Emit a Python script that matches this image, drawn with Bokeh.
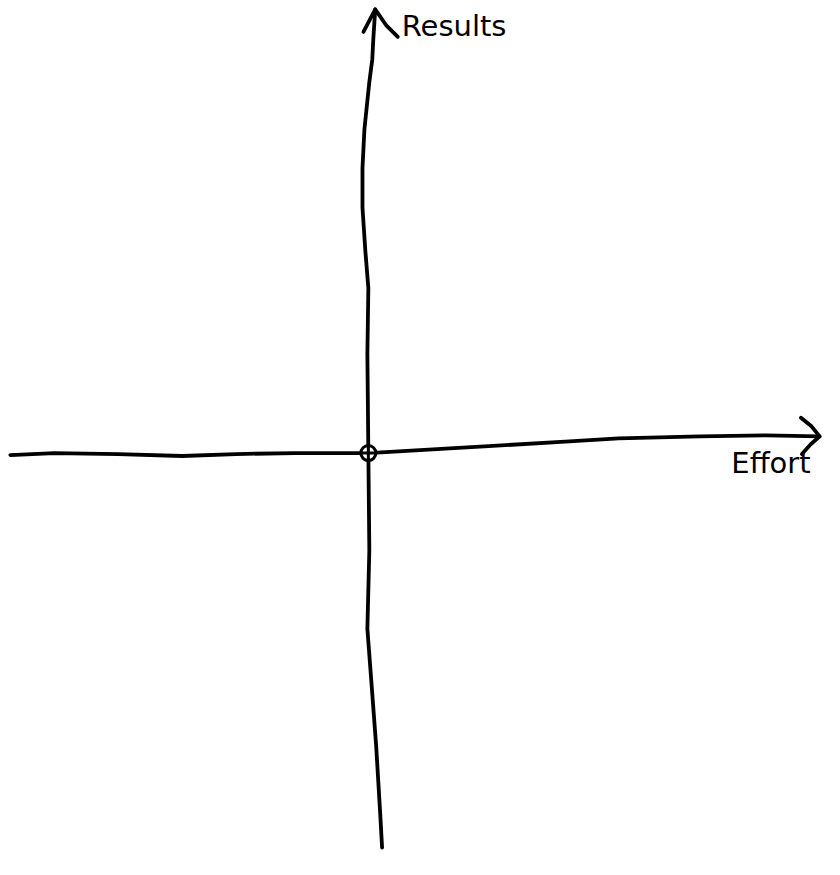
from bokeh.plotting import figure
from bokeh.models import Range1d
from bokeh.embed import file_html
from bokeh.resources import INLINE
from bokeh.core.properties import value

# Hand-drawn axes, coordinates relative to the origin (Effort, Results)
effort_axis_x = [-365, -320, -255, -190, -135, -75, 0, 105, 205, 255, 338, 405, 460]
effort_axis_y = [-2, 0, -1, -3, -1, 0, 0, 6, 12, 15, 17, 18, 17]
effort_head_x = [441, 452, 460, 451, 442]
effort_head_y = [36, 27, 17, 9, -1]

results_axis_x = [7, 5, 4, 1, -4, -6, -6, -3, 0, -1, 0, 1, -1, 3, 8, 12, 14]
results_axis_y = [452, 421, 401, 378, 330, 290, 250, 205, 168, 101, 0, -99, -179, -232, -299, -366, -402]
results_head_x = [-5, 7, 18, 30]
results_head_y = [429, 452, 436, 424]

origin_x = [0]
origin_y = [0]

labels = ["Results", "Effort"]
label_x = [34, 370]
label_y = [435, -10]

X0, Y0 = 375, 461  # origin position in the reference picture

p = figure(width=824, height=859, output_backend="svg", toolbar_location=None,
           x_range=Range1d(0 - X0, 840 - X0), y_range=Range1d(Y0 - 875, Y0 - 0),
           min_border=0, background_fill_color="white", border_fill_color="white")
p.axis.visible = False
p.grid.visible = False
p.outline_line_color = None

lw = 3.8
for xs, ys in [(effort_axis_x, effort_axis_y), (effort_head_x, effort_head_y),
               (results_axis_x, results_axis_y), (results_head_x, results_head_y)]:
    p.line(xs, ys, line_color="black", line_width=lw, line_cap="round", line_join="round")

p.scatter(origin_x, origin_y, marker="circle_cross", size=15, fill_color="white",
          line_color="black", line_width=3)

p.text(label_x, label_y, text=labels, text_font=value("DejaVu Sans"),
       text_font_size="29px", text_color="black", text_baseline="middle", text_align="left")

open("out.html", "w").write(file_html(p, INLINE))
